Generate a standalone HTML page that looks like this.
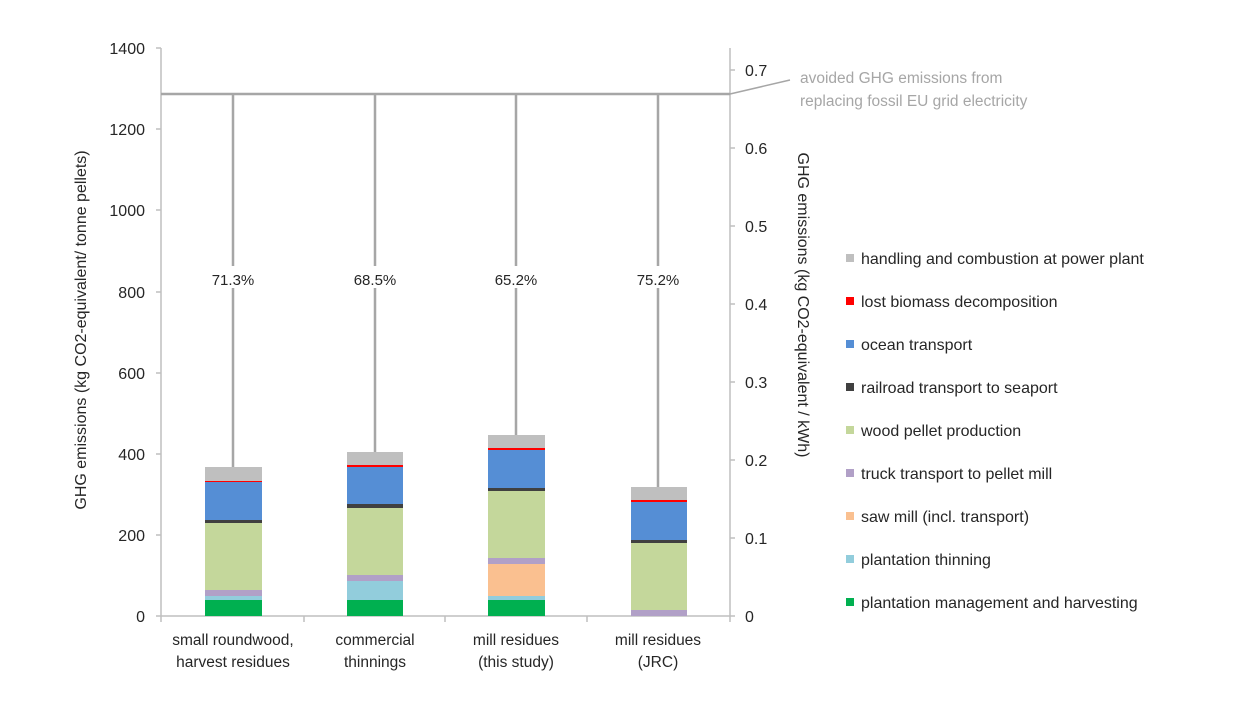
<!DOCTYPE html>
<html><head><meta charset="utf-8"><style>
body{margin:0;background:#fff}
svg text{font-family:"Liberation Sans",sans-serif;fill:#262626}
</style></head><body>
<svg width="1249" height="707" viewBox="0 0 1249 707" xmlns="http://www.w3.org/2000/svg">
<g stroke="#bfbfbf" stroke-width="1.5">
<line x1="161" y1="48" x2="161" y2="616"/>
<line x1="161" y1="616" x2="730" y2="616"/>
<line x1="730" y1="48" x2="730" y2="616"/>
<line x1="156" y1="48" x2="161" y2="48"/><line x1="156" y1="129" x2="161" y2="129"/><line x1="156" y1="210" x2="161" y2="210"/><line x1="156" y1="292" x2="161" y2="292"/><line x1="156" y1="373" x2="161" y2="373"/><line x1="156" y1="454" x2="161" y2="454"/><line x1="156" y1="535" x2="161" y2="535"/><line x1="156" y1="616" x2="161" y2="616"/>
<line x1="730" y1="70" x2="735" y2="70"/><line x1="730" y1="148" x2="735" y2="148"/><line x1="730" y1="226" x2="735" y2="226"/><line x1="730" y1="304" x2="735" y2="304"/><line x1="730" y1="382" x2="735" y2="382"/><line x1="730" y1="460" x2="735" y2="460"/><line x1="730" y1="538" x2="735" y2="538"/><line x1="730" y1="616" x2="735" y2="616"/>
<line x1="161" y1="616" x2="161" y2="622"/><line x1="304" y1="616" x2="304" y2="622"/><line x1="445" y1="616" x2="445" y2="622"/><line x1="587" y1="616" x2="587" y2="622"/><line x1="730" y1="616" x2="730" y2="622"/>
</g>
<g font-size="16" text-anchor="end">
<text x="145" y="54">1400</text><text x="145" y="135">1200</text><text x="145" y="216">1000</text><text x="145" y="298">800</text><text x="145" y="379">600</text><text x="145" y="460">400</text><text x="145" y="541">200</text><text x="145" y="622">0</text>
</g>
<g font-size="16">
<text x="745" y="76">0.7</text><text x="745" y="154">0.6</text><text x="745" y="232">0.5</text><text x="745" y="310">0.4</text><text x="745" y="388">0.3</text><text x="745" y="466">0.2</text><text x="745" y="544">0.1</text><text x="745" y="622">0</text>
</g>
<g stroke="#a6a6a6" stroke-width="2.5" fill="none">
<line x1="161" y1="94" x2="730" y2="94"/>
<polyline points="730,94 790,80" stroke-width="1.5"/>
<line x1="233" y1="94" x2="233" y2="467"/>
<line x1="375" y1="94" x2="375" y2="452"/>
<line x1="516" y1="94" x2="516" y2="435"/>
<line x1="658" y1="94" x2="658" y2="487"/>
</g>
<g font-size="15" text-anchor="middle">
<rect x="203" y="266" width="60" height="22" fill="#fff"/><text x="233" y="285">71.3%</text>
<rect x="345" y="266" width="60" height="22" fill="#fff"/><text x="375" y="285">68.5%</text>
<rect x="486" y="266" width="60" height="22" fill="#fff"/><text x="516" y="285">65.2%</text>
<rect x="628" y="266" width="60" height="22" fill="#fff"/><text x="658" y="285">75.2%</text>
</g>
<!-- bar1 -->
<g>
<rect x="205" y="467" width="57" height="14" fill="#bfbfbf"/>
<rect x="205" y="481" width="57" height="1.5" fill="#ff0000"/>
<rect x="205" y="482" width="57" height="38" fill="#558ed5"/>
<rect x="205" y="520" width="57" height="3" fill="#404040"/>
<rect x="205" y="523" width="57" height="67" fill="#c4d79b"/>
<rect x="205" y="590" width="57" height="6" fill="#b1a0c7"/>
<rect x="205" y="596" width="57" height="4" fill="#92cddc"/>
<rect x="205" y="600" width="57" height="16" fill="#00b050"/>
</g>
<g>
<rect x="347" y="452" width="56" height="13" fill="#bfbfbf"/>
<rect x="347" y="465" width="56" height="2" fill="#ff0000"/>
<rect x="347" y="467" width="56" height="37" fill="#558ed5"/>
<rect x="347" y="504" width="56" height="4" fill="#404040"/>
<rect x="347" y="508" width="56" height="67" fill="#c4d79b"/>
<rect x="347" y="575" width="56" height="6" fill="#b1a0c7"/>
<rect x="347" y="581" width="56" height="19" fill="#92cddc"/>
<rect x="347" y="600" width="56" height="16" fill="#00b050"/>
</g>
<g>
<rect x="488" y="435" width="57" height="13" fill="#bfbfbf"/>
<rect x="488" y="448" width="57" height="2" fill="#ff0000"/>
<rect x="488" y="450" width="57" height="38" fill="#558ed5"/>
<rect x="488" y="488" width="57" height="3" fill="#404040"/>
<rect x="488" y="491" width="57" height="67" fill="#c4d79b"/>
<rect x="488" y="558" width="57" height="6" fill="#b1a0c7"/>
<rect x="488" y="564" width="57" height="32" fill="#fac090"/>
<rect x="488" y="596" width="57" height="4" fill="#92cddc"/>
<rect x="488" y="600" width="57" height="16" fill="#00b050"/>
</g>
<g>
<rect x="631" y="487" width="56" height="13" fill="#bfbfbf"/>
<rect x="631" y="500" width="56" height="2" fill="#ff0000"/>
<rect x="631" y="502" width="56" height="38" fill="#558ed5"/>
<rect x="631" y="540" width="56" height="3" fill="#404040"/>
<rect x="631" y="543" width="56" height="67" fill="#c4d79b"/>
<rect x="631" y="610" width="56" height="6" fill="#b1a0c7"/>
</g>
<g font-size="15.5" text-anchor="middle">
<text x="233" y="645">small roundwood,</text><text x="233" y="667">harvest residues</text>
<text x="375" y="645">commercial</text><text x="375" y="667">thinnings</text>
<text x="516" y="645">mill residues</text><text x="516" y="667">(this study)</text>
<text x="658" y="645">mill residues</text><text x="658" y="667">(JRC)</text>
</g>
<text transform="translate(86,330) rotate(-90)" font-size="16" text-anchor="middle">GHG emissions  (kg CO2-equivalent/ tonne pellets)</text>
<text transform="translate(798,305) rotate(90)" font-size="16" text-anchor="middle">GHG emissions (kg CO2-equivalent / kWh)</text>
<g font-size="15.5" style="fill:#a6a6a6">
<text x="800" y="83" style="fill:#a6a6a6">avoided GHG emissions from</text>
<text x="800" y="106" style="fill:#a6a6a6">replacing fossil EU grid electricity</text>
</g>
<g font-size="16">
<rect x="846" y="254" width="8" height="8" fill="#bfbfbf"/><text x="861" y="264">handling and combustion at power plant</text>
<rect x="846" y="297" width="8" height="8" fill="#ff0000"/><text x="861" y="307">lost biomass decomposition</text>
<rect x="846" y="340" width="8" height="8" fill="#558ed5"/><text x="861" y="350">ocean transport</text>
<rect x="846" y="383" width="8" height="8" fill="#404040"/><text x="861" y="393">railroad transport to seaport</text>
<rect x="846" y="426" width="8" height="8" fill="#c4d79b"/><text x="861" y="436">wood pellet production</text>
<rect x="846" y="469" width="8" height="8" fill="#b1a0c7"/><text x="861" y="479">truck transport to pellet mill</text>
<rect x="846" y="512" width="8" height="8" fill="#fac090"/><text x="861" y="522">saw mill (incl. transport)</text>
<rect x="846" y="555" width="8" height="8" fill="#92cddc"/><text x="861" y="565">plantation thinning</text>
<rect x="846" y="598" width="8" height="8" fill="#00b050"/><text x="861" y="608">plantation management and harvesting</text>
</g>
</svg>
</body></html>
